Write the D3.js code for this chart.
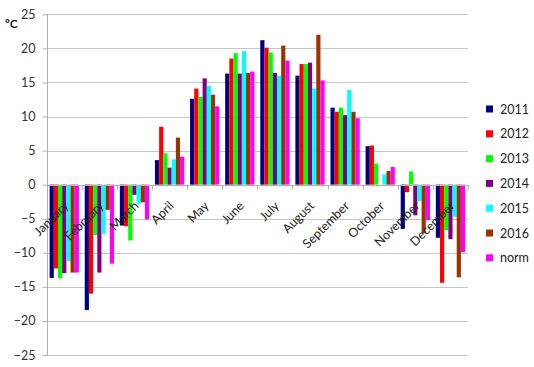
<!DOCTYPE html>
<html>
<head>
<meta charset="utf-8">
<script src="https://cdn.jsdelivr.net/npm/d3@7"></script>
<style>
  body { margin: 0; background: #fff; }
  svg { display: block; font-family: Lato, "Liberation Sans", sans-serif; }
</style>
</head>
<body>
<svg id="chart" width="534" height="367"></svg>
<script>
const months = ["January","February","March","April","May","June","July","August","September","October","November","December"];
const seriesNames = ["2011","2012","2013","2014","2015","2016","norm"];
const s2011 = [-13.7,-18.4,-6.0,3.6,12.6,16.3,21.2,16.0,11.3,5.65,-6.5,-7.8];
const s2012 = [-12.3,-16.0,-6.1,8.5,14.1,18.5,20.1,17.7,10.7,5.75,-1.1,-14.4];
const s2013 = [-13.7,-7.4,-8.2,4.6,12.9,19.3,19.4,17.7,11.3,3.1,1.95,-6.7];
const s2014 = [-13.0,-12.9,-1.5,2.5,15.6,16.3,16.4,17.9,10.2,null,-4.5,-8.0];
const s2015 = [-11.2,-7.2,-2.8,3.7,14.5,19.6,16.0,14.1,13.9,1.5,-2.4,-4.7];
const s2016 = [-12.9,-3.7,-2.6,6.9,13.2,16.4,20.4,22.0,10.7,2.0,-7.1,-13.6];
const sNorm = [-12.9,-11.6,-5.1,4.1,11.5,16.6,18.2,15.3,9.75,2.6,-5.2,-9.9];
const yTicks = [-25,-20,-15,-10,-5,0,5,10,15,20,25];
const colors = ["#000080","#ff0000","#00ff00","#800080","#00ffff","#993300","#ff00ff"];

const seriesValues = [s2011,s2012,s2013,s2014,s2015,s2016,sNorm];

const svg = d3.select("#chart");
const pLeft = 46.7, pRight = 468, pTop = 14.3, pBottom = 355;

const x0 = d3.scaleBand().domain(months).range([pLeft, pRight]).padding(0);
const gap = x0.bandwidth() * (1 - 1/1.2);
const x1 = d3.scaleBand().domain(seriesNames).range([gap/2, x0.bandwidth() - gap/2]).padding(0);
const y = d3.scaleLinear().domain([-25, 25]).range([pBottom, pTop]);

// gridlines
svg.append("g").selectAll("line").data(yTicks).join("line")
  .attr("x1", pLeft).attr("x2", pRight)
  .attr("y1", d => Math.round(y(d)) + 0.5).attr("y2", d => Math.round(y(d)) + 0.5)
  .attr("stroke", "#c6c6c6").attr("stroke-width", 1);

// y axis
const yAxis = svg.append("g").attr("transform", `translate(${Math.round(pLeft)+0.5},0)`)
  .call(d3.axisLeft(y).tickValues(yTicks).tickSize(5).tickPadding(7).tickFormat(d3.format("d")));
yAxis.selectAll("path, line").attr("stroke", "#b0b0b0");
yAxis.selectAll("text").attr("font-size", "12.5px").attr("fill", "#333").attr("font-family", "Lato, sans-serif");
yAxis.select(".domain").attr("d", `M0,${Math.round(pTop)+0.5}V${Math.round(pBottom)+0.5}`);

// bars
const groups = svg.append("g").selectAll("g").data(months).join("g")
  .attr("transform", d => `translate(${x0(d)},0)`);
groups.selectAll("rect")
  .data((m, i) => seriesNames.map((s, k) => ({ s, v: seriesValues[k][i], c: colors[k] })).filter(d => d.v !== null))
  .join("rect")
  .attr("x", d => x1(d.s))
  .attr("width", x1.bandwidth())
  .attr("y", d => y(Math.max(0, d.v)))
  .attr("height", d => Math.abs(y(d.v) - y(0)))
  .attr("fill", d => d.c);

// x axis at zero
const y0 = Math.round(y(0)) + 0.5;
svg.append("line").attr("x1", pLeft).attr("x2", pRight).attr("y1", y0).attr("y2", y0)
  .attr("stroke", "#b0b0b0");
const boundaries = months.map(m => x0(m)).concat([pRight]);
svg.append("g").selectAll("line").data(boundaries).join("line")
  .attr("x1", d => Math.round(d) + 0.5).attr("x2", d => Math.round(d) + 0.5)
  .attr("y1", y0).attr("y2", y0 + 4)
  .attr("stroke", "#b0b0b0");

// month labels
svg.append("g").selectAll("text").data(months).join("text")
  .attr("transform", d => `translate(${x0(d) + x0.bandwidth()/2 + 5},${y(0) + 22}) rotate(-45)`)
  .attr("text-anchor", "end")
  .attr("font-size", "12.5px")
  .attr("fill", "#222")
  .text(d => d);

// unit label
svg.append("text").attr("x", 5).attr("y", 28).attr("font-size", "12px").attr("font-weight", "bold")
  .attr("fill", "#222").text("ºC");

// legend
const lg = svg.append("g").selectAll("g").data(seriesNames).join("g")
  .attr("transform", (d, i) => `translate(486,${109 + i * 24.8})`);
lg.append("rect").attr("x", 0).attr("y", -3.5).attr("width", 7).attr("height", 7)
  .attr("fill", (d, i) => colors[i]);
lg.append("text").attr("x", 14).attr("y", 4.5).attr("font-size", "12.5px").attr("fill", "#222").text(d => d);
</script>
</body>
</html>
